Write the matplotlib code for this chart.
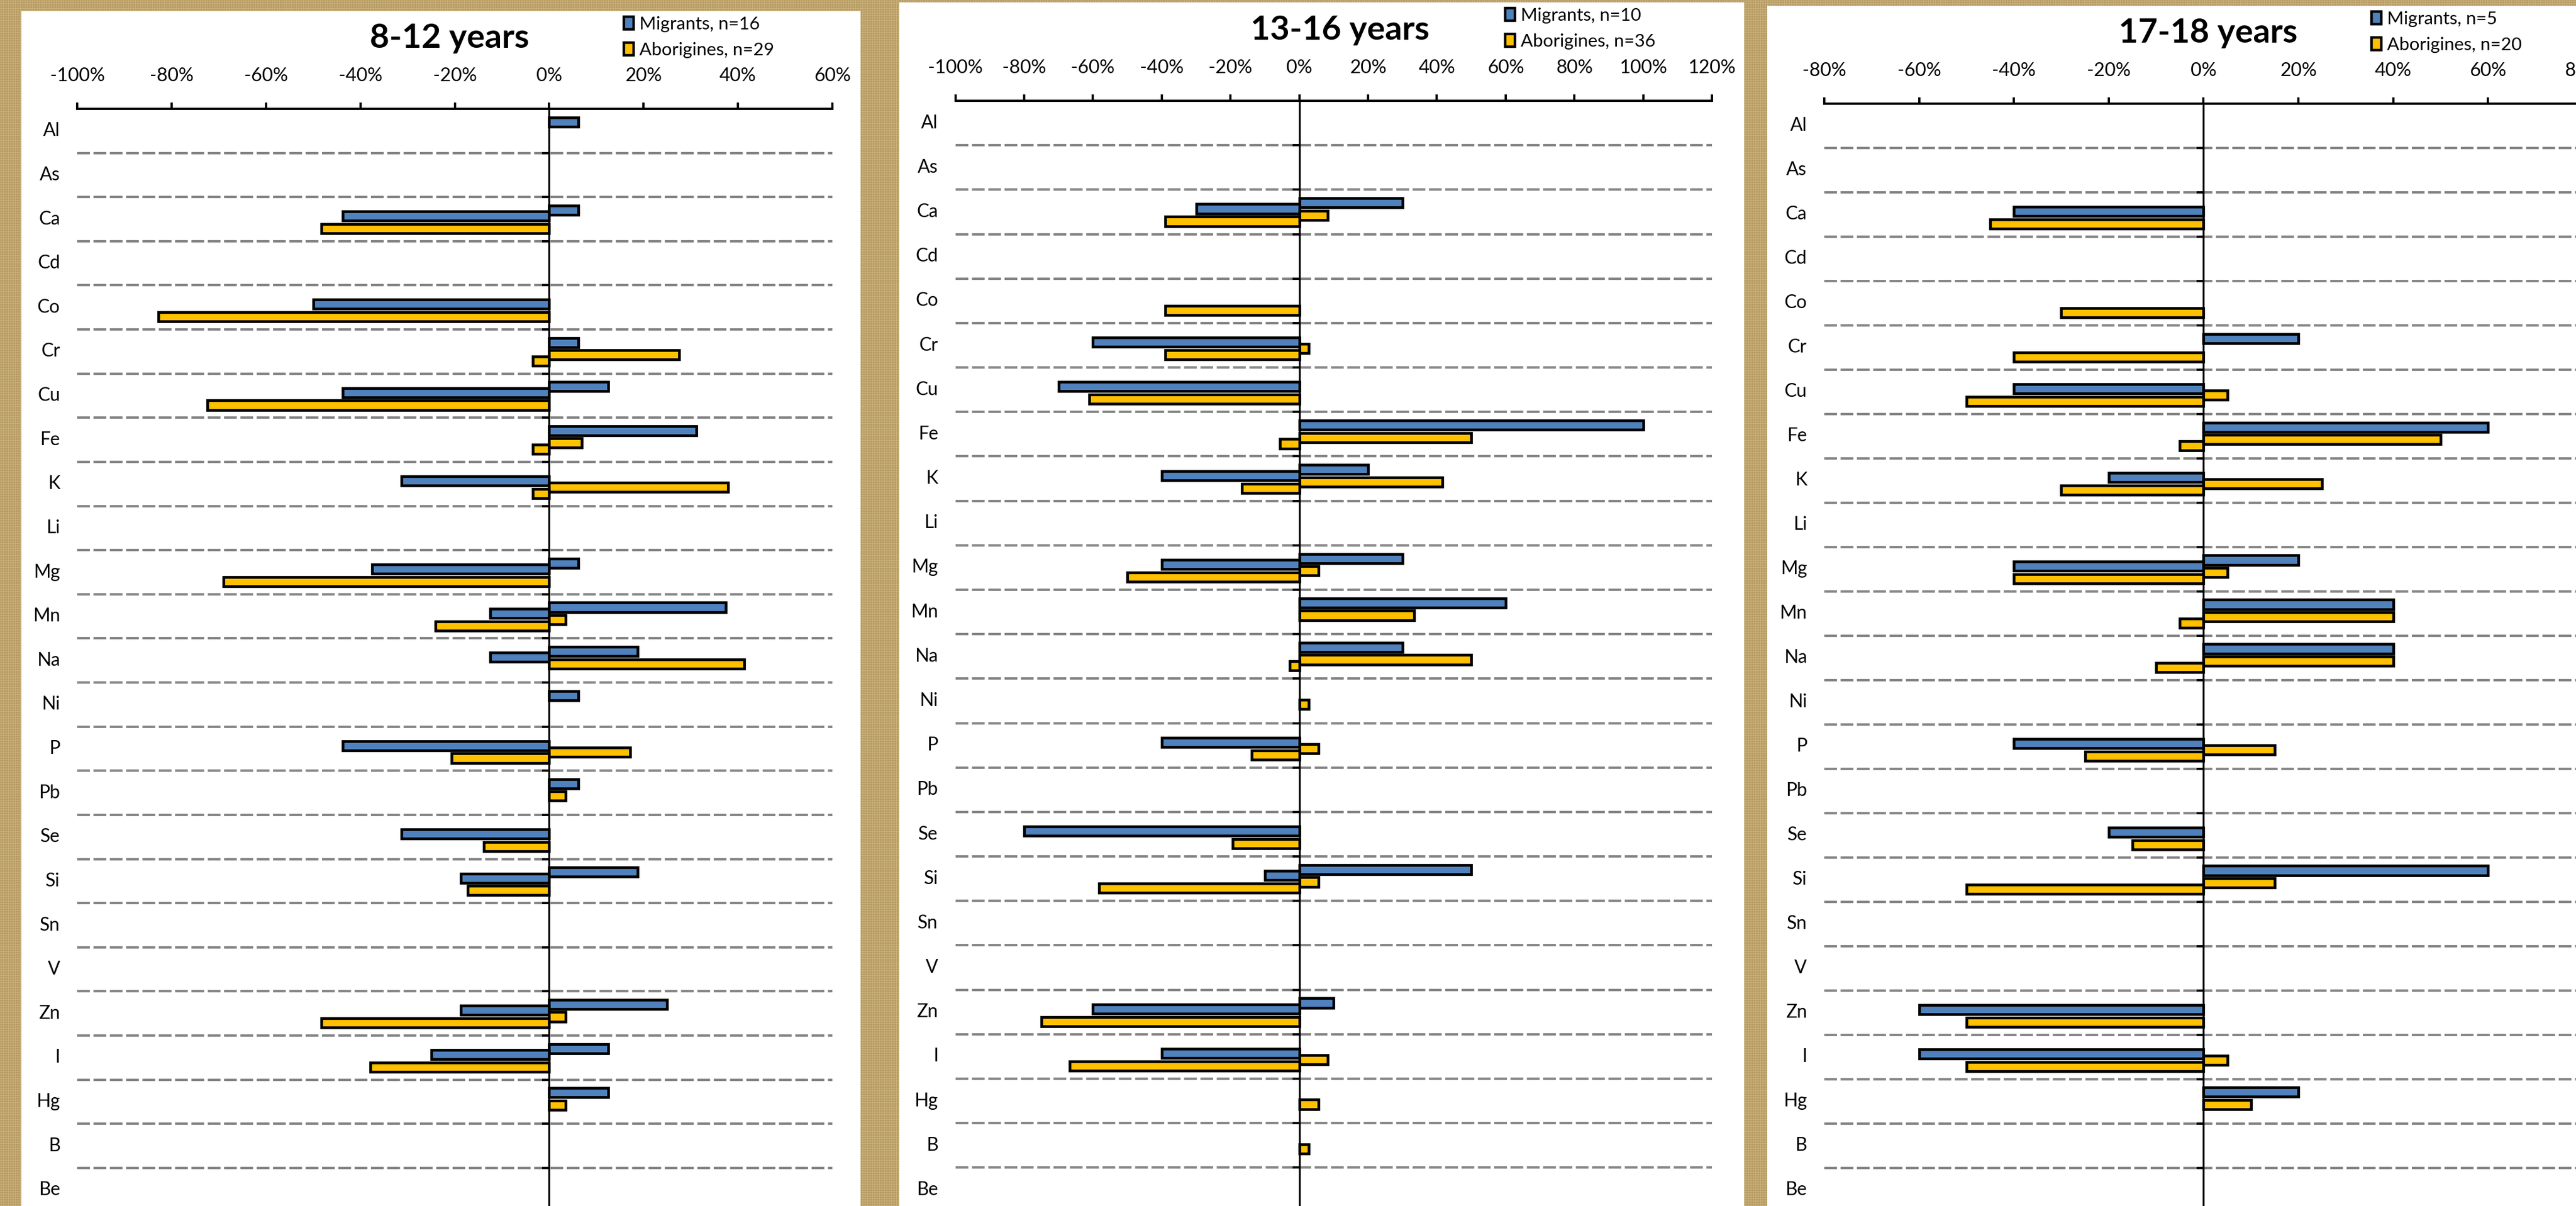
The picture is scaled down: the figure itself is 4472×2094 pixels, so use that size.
import matplotlib
matplotlib.use('Agg')
import numpy as np
import matplotlib.pyplot as plt
from matplotlib.patches import Rectangle, Patch
from matplotlib.ticker import PercentFormatter
from matplotlib.transforms import ScaledTranslation

plt.rcParams['font.family'] = ['Lato', 'DejaVu Sans']
plt.rcParams['axes.unicode_minus'] = False
plt.rcParams['hatch.linewidth'] = 1.0

elements = ['Al', 'As', 'Ca', 'Cd', 'Co', 'Cr', 'Cu', 'Fe', 'K', 'Li', 'Mg', 'Mn', 'Na',
            'Ni', 'P', 'Pb', 'Se', 'Si', 'Sn', 'V', 'Zn', 'I', 'Hg', 'B', 'Be']

# share of children (%) with values going up (pos) / down (neg)
# 8-12 years
mig_pos_1 = [6.25, 0, 6.25, 0, 0, 6.25, 12.5, 31.25, 0, 0, 6.25, 37.5, 18.75,
             6.25, 0, 6.25, 0, 18.75, 0, 0, 25, 12.5, 12.5, 0, 0]
mig_neg_1 = [0, 0, -43.75, 0, -50, 0, -43.75, 0, -31.25, 0, -37.5, -12.5, -12.5,
             0, -43.75, 0, -31.25, -18.75, 0, 0, -18.75, -25, 0, 0, 0]
abo_pos_1 = [0, 0, 0, 0, 0, 27.6, 0, 6.9, 37.9, 0, 0, 3.45, 41.4,
             0, 17.2, 3.45, 0, 0, 0, 0, 3.45, 0, 3.45, 0, 0]
abo_neg_1 = [0, 0, -48.3, 0, -82.8, -3.45, -72.4, -3.45, -3.45, 0, -69, -24.1, 0,
             0, -20.7, 0, -13.8, -17.2, 0, 0, -48.3, -37.9, 0, 0, 0]

# 13-16 years
mig_pos_2 = [0, 0, 30, 0, 0, 0, 0, 100, 20, 0, 30, 60, 30,
             0, 0, 0, 0, 50, 0, 0, 10, 0, 0, 0, 0]
mig_neg_2 = [0, 0, -30, 0, 0, -60, -70, 0, -40, 0, -40, 0, 0,
             0, -40, 0, -80, -10, 0, 0, -60, -40, 0, 0, 0]
abo_pos_2 = [0, 0, 8.33, 0, 0, 2.78, 0, 50, 41.67, 0, 5.56, 33.33, 50,
             2.78, 5.56, 0, 0, 5.56, 0, 0, 0, 8.33, 5.56, 2.78, 0]
abo_neg_2 = [0, 0, -38.9, 0, -38.9, -38.9, -61.1, -5.56, -16.67, 0, -50, 0, -2.78,
             0, -13.9, 0, -19.4, -58.3, 0, 0, -75, -66.7, 0, 0, 0]

# 17-18 years
mig_pos_3 = [0, 0, 0, 0, 0, 20, 0, 60, 0, 0, 20, 40, 40,
             0, 0, 0, 0, 60, 0, 0, 0, 0, 20, 0, 0]
mig_neg_3 = [0, 0, -40, 0, 0, 0, -40, 0, -20, 0, -40, 0, 0,
             0, -40, 0, -20, 0, 0, 0, -60, -60, 0, 0, 0]
abo_pos_3 = [0, 0, 0, 0, 0, 0, 5, 50, 25, 0, 5, 40, 40,
             0, 15, 0, 0, 15, 0, 0, 0, 5, 10, 0, 0]
abo_neg_3 = [0, 0, -45, 0, -30, -40, -50, -5, -30, 0, -40, -5, -10,
             0, -25, 0, -15, -50, 0, 0, -50, -50, 0, 0, 0]

titles = ['8-12 years', '13-16 years', '17-18 years']
mig_labels = ['Migrants, n=16', 'Migrants, n=10', 'Migrants, n=5']
abo_labels = ['Aborigines, n=29', 'Aborigines, n=36', 'Aborigines, n=20']
x_ranges = [(-100, 60), (-100, 120), (-80, 80)]
series = [(mig_pos_1, mig_neg_1, abo_pos_1, abo_neg_1),
          (mig_pos_2, mig_neg_2, abo_pos_2, abo_neg_2),
          (mig_pos_3, mig_neg_3, abo_pos_3, abo_neg_3)]

BLUE = '#4F81BD'
GOLD = '#FFC000'

W, H = 4472, 2094
fig = plt.figure(figsize=(W / 100, H / 100), dpi=100)

# burlap-ish backdrop: mid tan with a faint weave
fig.patch.set_facecolor('#B2965F')
fig.add_artist(Rectangle((0, 0), 1, 1, transform=fig.transFigure, facecolor='#B2965F',
                         edgecolor='#C9AF78', hatch='++++', lw=0, zorder=-10))

# layout in pixels: white card (x0, x1, top), axes (left, right, top)
cards = [(37, 1494, 19), (1561, 3028, 4), (3068, 4500, 10)]
axes_px = [(134.3, 1444.7, 189), (1658.6, 2972.1, 175), (3166.9, 4483.9, 180)]
title_px = [(780, 83), (2326, 69), (3833, 74)]
legend_px = [(1083, 28), (2613, 13), (4117, 19)]
bottom_px = 2104.6

offsets = [-0.205, -0.07, 0.075, 0.215]
colors = [BLUE, BLUE, GOLD, GOLD]

for k in range(3):
    cx0, cx1, ctop = cards[k]
    fig.add_artist(Rectangle((cx0 / W, 0), (cx1 - cx0) / W, 1 - ctop / H,
                             transform=fig.transFigure, facecolor='white',
                             lw=0, zorder=-5))

    l, r, t = axes_px[k]
    ax = fig.add_axes([l / W, (H - bottom_px) / H, (r - l) / W, (bottom_px - t) / H])
    ax.set_facecolor('none')

    for vals, off, col in zip(series[k], offsets, colors):
        idx = [i for i, v in enumerate(vals) if v != 0]
        ax.barh(np.array(idx) + off, [vals[i] for i in idx], height=0.21,
                color=col, edgecolor='black', linewidth=3.4, zorder=3)

    ax.set_xlim(*x_ranges[k])
    ax.set_xticks(np.arange(x_ranges[k][0], x_ranges[k][1] + 1, 20))
    ax.xaxis.set_major_formatter(PercentFormatter(decimals=0))
    ax.xaxis.tick_top()
    ax.tick_params(axis='x', direction='out', length=8, width=2.8, pad=22,
                   labelsize=23.5, colors='black')

    ax.set_ylim(len(elements) - 0.5, -0.5)
    ax.set_yticks(np.arange(0.5, len(elements) - 1, 1))
    ax.tick_params(axis='y', direction='out', length=9, width=2.8, labelleft=False)
    ax.grid(axis='y', color='#858585', linewidth=3.0, linestyle=(0, (5.3, 1.5)))
    ax.set_axisbelow(True)

    ax.spines['left'].set_position(('data', 0))
    ax.spines['left'].set_linewidth(2.4)
    ax.spines['top'].set_linewidth(2.8)
    ax.spines['right'].set_visible(False)
    ax.spines['bottom'].set_visible(False)

    lab_trans = ax.get_yaxis_transform() + ScaledTranslation(-0.30, 0, fig.dpi_scale_trans)
    for i, name in enumerate(elements):
        ax.text(0, i, name, transform=lab_trans, ha='right', va='center', fontsize=23)

    tx, ty = title_px[k]
    fig.text(tx / W, 1 - ty / H, titles[k], ha='center', va='baseline',
             fontsize=42, fontweight='bold')

    handles = [Patch(facecolor=BLUE, edgecolor='black', linewidth=3.2),
               Patch(facecolor=GOLD, edgecolor='black', linewidth=3.2)]
    lx, ly = legend_px[k]
    ax.legend(handles, [mig_labels[k], abo_labels[k]], loc='upper left',
              bbox_to_anchor=(lx / W, 1 - ly / H), bbox_transform=fig.transFigure,
              frameon=False, borderpad=0, borderaxespad=0, fontsize=22.5,
              handlelength=0.55, handleheight=0.7, handletextpad=0.3,
              labelspacing=0.55)

fig.savefig('out.png', dpi=100)
